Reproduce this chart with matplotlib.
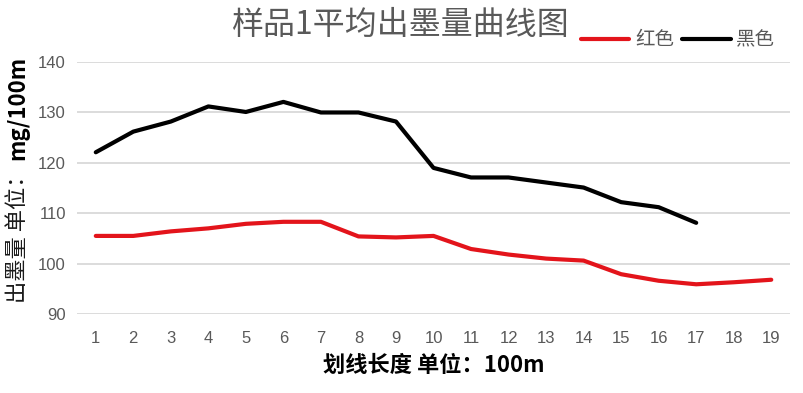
import numpy as np
import matplotlib.pyplot as plt

# data
x_labels = [str(i) for i in range(1, 20)]
red_vals = [105.5, 105.5, 106.4, 107.0, 107.9, 108.3, 108.3, 105.4, 105.2, 105.5,
            102.9, 101.8, 101.0, 100.6, 97.9, 96.6, 95.9, 96.3, 96.8]
black_vals = [122.1, 126.2, 128.2, 131.2, 130.1, 132.1, 130.0, 130.0, 128.2, 119.0,
              117.1, 117.1, 116.1, 115.1, 112.2, 111.2, 108.1]
y_ticks = [90, 100, 110, 120, 130, 140]

cjk = ['Noto Sans CJK SC', 'DejaVu Sans']
plt.rcParams['font.family'] = cjk

fig = plt.figure(figsize=(8.04, 3.93), dpi=100)
ax = fig.add_axes([0.0958, 0.201, 0.8868, 0.641])

xr = np.arange(1, len(red_vals) + 1)
xb = np.arange(1, len(black_vals) + 1)
ax.plot(xr, red_vals, color='#E3141B', lw=3, solid_capstyle='round',
        solid_joinstyle='round', label='红色', zorder=3)
ax.plot(xb, black_vals, color='black', lw=3, solid_capstyle='round',
        solid_joinstyle='round', label='黑色', zorder=3)

ax.set_xlim(0.5, 19.5)
ax.set_ylim(90, 140)
ax.set_xticks(np.arange(1, 20))
ax.set_xticklabels(x_labels, family='Liberation Sans', fontsize=12, color='#595959')
ax.set_yticks(y_ticks)
ax.set_yticklabels([str(v) for v in y_ticks], family='Liberation Sans',
                   fontsize=12, color='#595959')
ax.tick_params(length=0, pad=8)
ax.tick_params(axis='x', pad=12)
ax.grid(axis='y', color='#D9D9D9', lw=1.3)
ax.set_axisbelow(True)
for s in ax.spines.values():
    s.set_visible(False)

ax.set_xlabel('划线长度 单位：100m', fontsize=16, fontweight='bold', color='black',
              labelpad=6)

# y label: CJK part regular, units bold
fig.text(18 / 804, 1 - 303 / 393, '出墨量 单位：', rotation=90, ha='center',
         va='bottom', fontsize=16, color='#1a1a1a')
fig.text(18 / 804, 1 - 160 / 393, 'mg/100m', rotation=90, ha='center',
         va='bottom', fontsize=16, fontweight='bold', color='black')

fig.text(400 / 804, 1 - 25 / 393, '样品1平均出墨量曲线图', ha='center', va='center',
         fontsize=23, color='#595959')

fig.legend(loc='center', bbox_to_anchor=(678 / 804, 1 - 40 / 393), ncol=2,
           frameon=False, fontsize=14, handlelength=2.5, handletextpad=0.3,
           columnspacing=0.4, labelcolor='#595959')

fig.savefig('out.png', dpi=100)
